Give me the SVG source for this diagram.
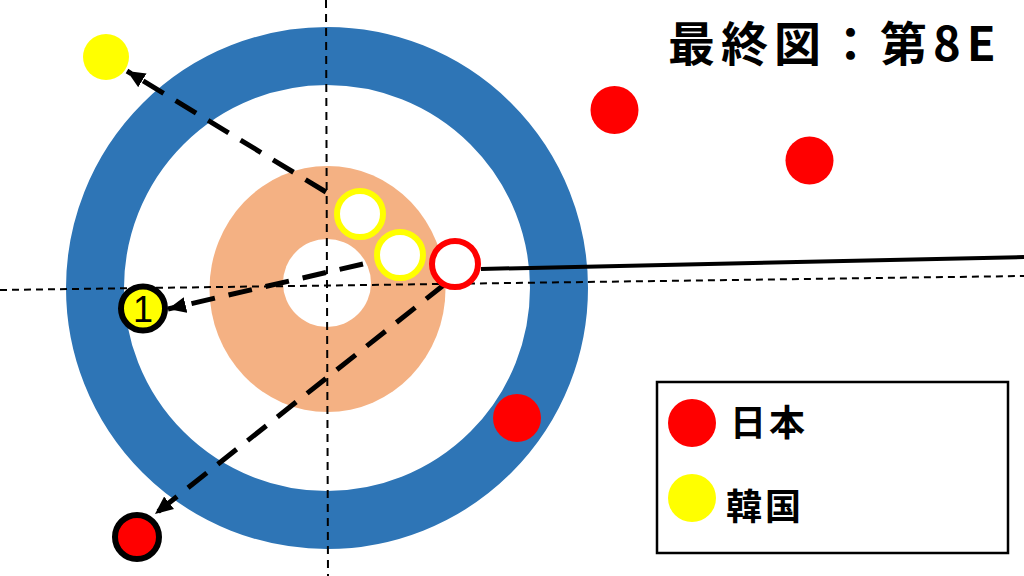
<svg xmlns="http://www.w3.org/2000/svg" width="1024" height="576" viewBox="0 0 1024 576">
<style>
.thin{stroke:#000;stroke-width:2;stroke-dasharray:7 5;fill:none}
.arr{stroke:#000;stroke-width:5;stroke-dasharray:24 14;fill:none}
.red{fill:#FF0000}
.yel{fill:#FFFF00}
.lbl{font-family:"Noto Sans CJK JP","Noto Sans CJK SC",sans-serif;fill:#000}
</style>
<defs>
<marker id="ah" markerUnits="userSpaceOnUse" markerWidth="20" markerHeight="18" refX="18" refY="8" orient="auto">
<path d="M0,0 L18,8 L0,16 z" fill="#000"/>
</marker>
</defs>
<rect width="1024" height="576" fill="#fff"/>
<g id="house">
<circle cx="327" cy="288" r="232" fill="none" stroke="#2E75B6" stroke-width="58"/>
<ellipse cx="327.5" cy="289" rx="118" ry="123" fill="#F4B183"/>
<circle cx="327" cy="283" r="44" fill="#fff"/>
</g>
<g id="guides">
<line class="thin" x1="0" y1="290" x2="1024" y2="276"/>
<line class="thin" x1="326" y1="0" x2="328" y2="576" style="stroke-dasharray:8 6"/>
</g>
<g id="connectors">
<line x1="481" y1="269" x2="1024" y2="257" stroke="#000" stroke-width="4"/>
<line class="arr" x1="326" y1="192" x2="127" y2="71" marker-end="url(#ah)"/>
<line class="arr" x1="363" y1="264" x2="168" y2="309" marker-end="url(#ah)"/>
<line class="arr" x1="445" y1="284" x2="155" y2="514" marker-end="url(#ah)"/>
</g>
<g id="stone-y1"><circle cx="360" cy="214" r="23" fill="#fff" stroke="#FFFF00" stroke-width="6"/></g>
<g id="stone-y2"><circle cx="400" cy="255" r="23" fill="#fff" stroke="#FFFF00" stroke-width="6"/></g>
<g id="stone-r-ring"><circle cx="455" cy="264" r="23" fill="#fff" stroke="#FF0000" stroke-width="6"/></g>
<g id="stone-y-out"><circle class="yel" cx="106" cy="57" r="23"/></g>
<g id="stone-1"><circle class="yel" cx="143" cy="308.5" r="22" stroke="#000" stroke-width="6"/>
<text x="143" y="322" font-family="Liberation Sans, Arial, sans-serif" font-size="36" text-anchor="middle" fill="#000">1</text></g>
<g id="stone-r-out"><circle class="red" cx="137" cy="537" r="22" stroke="#000" stroke-width="6"/></g>
<g id="stone-r1"><circle class="red" cx="614.5" cy="110" r="24"/></g>
<g id="stone-r2"><circle class="red" cx="809.5" cy="160.5" r="24"/></g>
<g id="stone-r3"><circle class="red" cx="517" cy="418" r="24"/></g>
<g id="title">
<text class="lbl" x="668" y="61" font-size="47" font-weight="bold" letter-spacing="6">最終図：第8E</text>
</g>
<g id="legend">
<rect x="657" y="382" width="351" height="171" fill="#fff" stroke="#000" stroke-width="2.5"/>
<circle class="red" cx="692" cy="423" r="24"/>
<circle class="yel" cx="692" cy="498" r="24"/>
<text class="lbl" x="730" y="436" font-size="36" font-weight="bold" letter-spacing="3">日本</text>
<text class="lbl" x="726" y="520" font-size="36" font-weight="bold" letter-spacing="3">韓国</text>
</g>
</svg>
